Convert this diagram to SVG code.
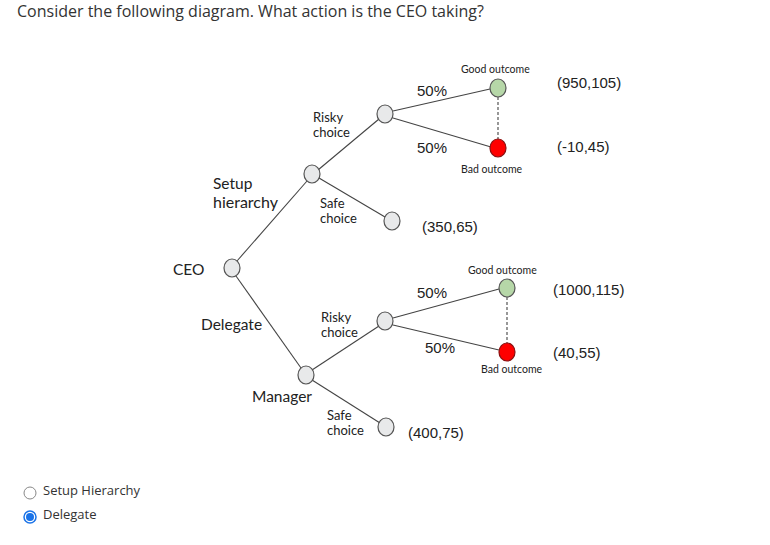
<svg xmlns="http://www.w3.org/2000/svg" width="770" height="545" viewBox="0 0 770 545">
<style>
.q{font-family:"Open Sans",sans-serif;fill:#333;}
.t{font-family:Lato,"Liberation Sans",sans-serif;fill:#222;}
.a{font-family:"Liberation Sans",Arial,sans-serif;fill:#222;font-size:15px;}
.l{font-size:15.5px;}
.m{font-size:13px;}
.s{font-size:10.5px;}
.n{fill:#e8e9ea;stroke:#555;stroke-width:1.2;}
.g{fill:#b6d7a8;stroke:#555;stroke-width:1.2;}
.b{fill:#ff0000;stroke:#8a1010;stroke-width:1.2;}
.e{stroke:#444;stroke-width:1.1;fill:none;}
.d{stroke:#444;stroke-width:1.1;stroke-dasharray:3,2;fill:none;}
</style>
<rect width="770" height="545" fill="#fff"/>
<text class="q" x="17" y="17" font-size="16">Consider the following diagram. What action is the CEO taking?</text>
<g id="connectors">
<line class="e" x1="237" y1="261" x2="307" y2="181"/>
<line class="e" x1="318" y1="170" x2="379" y2="119"/>
<line class="e" x1="319" y1="178" x2="385" y2="217"/>
<line class="e" x1="393" y1="111" x2="490" y2="89"/>
<line class="e" x1="393" y1="118" x2="491" y2="147"/>
<line class="d" x1="498" y1="97" x2="498" y2="139"/>
<line class="e" x1="236" y1="276" x2="301" y2="368"/>
<line class="e" x1="312" y1="370" x2="379" y2="326"/>
<line class="e" x1="312" y1="380" x2="380" y2="423"/>
<line class="e" x1="393" y1="318" x2="499" y2="289"/>
<line class="e" x1="393" y1="325" x2="499" y2="350"/>
<line class="d" x1="507" y1="297" x2="507" y2="343"/>
</g>
<g id="ceo"><ellipse class="n" cx="232" cy="268" rx="8" ry="9"/><text class="t l" x="173" y="275">CEO</text></g>
<g id="setup"><ellipse class="n" cx="312" cy="174" rx="8" ry="9"/><text class="t l" x="213" y="189">Setup</text><text class="t" font-size="16" x="213" y="208">hierarchy</text></g>
<g id="risky1"><ellipse class="n" cx="385" cy="114" rx="8" ry="9"/><text class="t m" x="313" y="122">Risky</text><text class="t m" x="313" y="137">choice</text></g>
<g id="safe1"><ellipse class="n" cx="392" cy="221" rx="8" ry="9"/><text class="t m" x="320" y="208">Safe</text><text class="t m" x="320" y="223">choice</text><text class="a" x="422" y="232">(350,65)</text></g>
<g id="good1"><ellipse class="g" cx="498" cy="88" rx="8" ry="9"/><text class="t s" x="461" y="73">Good outcome</text><text class="a" x="417" y="96">50%</text><text class="a" x="557" y="88">(950,105)</text></g>
<g id="bad1"><ellipse class="b" cx="498" cy="148" rx="8" ry="9"/><text class="t s" x="461" y="173">Bad outcome</text><text class="a" x="417" y="153">50%</text><text class="a" x="557" y="152">(-10,45)</text></g>
<g id="manager"><ellipse class="n" cx="306" cy="375" rx="8" ry="9"/><text class="t l" x="201" y="330">Delegate</text><text class="t l" x="252" y="402">Manager</text></g>
<g id="risky2"><ellipse class="n" cx="385" cy="321" rx="8" ry="9"/><text class="t m" x="321" y="322">Risky</text><text class="t m" x="321" y="337">choice</text></g>
<g id="safe2"><ellipse class="n" cx="386" cy="427" rx="8" ry="9"/><text class="t m" x="327" y="420">Safe</text><text class="t m" x="327" y="435">choice</text><text class="a" x="408" y="438">(400,75)</text></g>
<g id="good2"><ellipse class="g" cx="507" cy="288" rx="8" ry="9"/><text class="t s" x="468" y="274">Good outcome</text><text class="a" x="417" y="298">50%</text><text class="a" x="553" y="295">(1000,115)</text></g>
<g id="bad2"><ellipse class="b" cx="507" cy="352" rx="8" ry="9"/><text class="t s" x="481" y="373">Bad outcome</text><text class="a" x="425" y="353">50%</text><text class="a" x="553" y="358">(40,55)</text></g>
<g id="options">
<circle cx="30" cy="493" r="6" fill="#fff" stroke="#888" stroke-width="1"/>
<text class="q" x="43" y="495" font-size="13">Setup Hierarchy</text>
<circle cx="30" cy="517" r="6" fill="#fff" stroke="#1a73e8" stroke-width="1.5"/>
<circle cx="30" cy="517" r="4" fill="#1a73e8"/>
<text class="q" x="43" y="519" font-size="13">Delegate</text>
</g>
</svg>
